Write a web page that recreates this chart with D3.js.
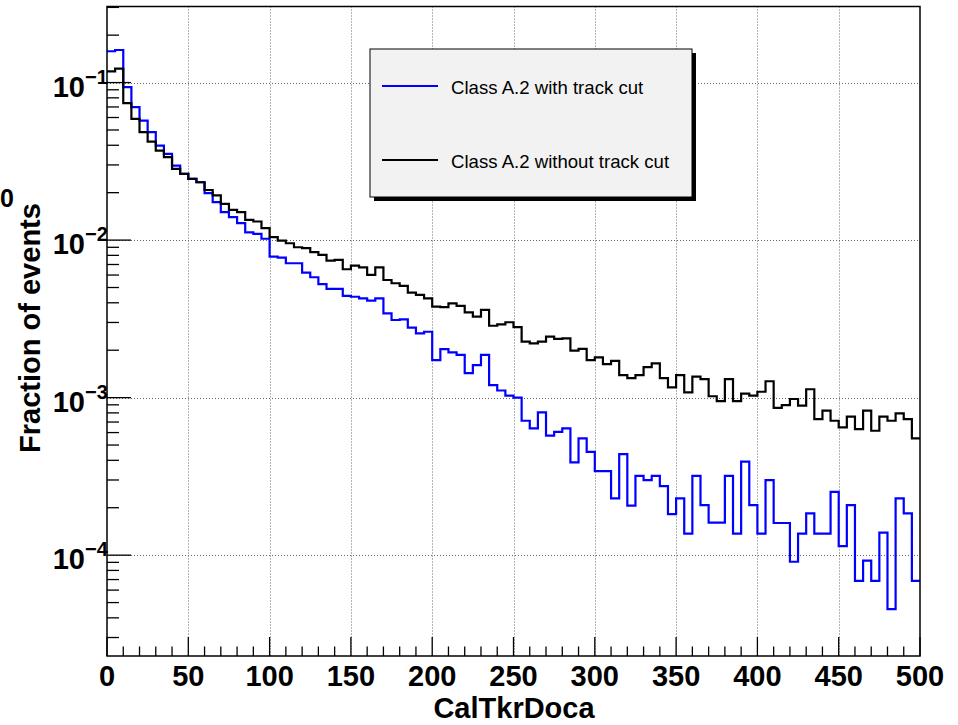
<!DOCTYPE html>
<html>
<head>
<meta charset="utf-8">
<script src="https://cdn.jsdelivr.net/npm/d3@7/dist/d3.min.js"></script>
<style>
  body { margin: 0; background: #fff; }
  svg { display: block; }
  text { font-family: "Liberation Sans", Arial, Helvetica, sans-serif; }
</style>
</head>
<body>
<svg id="chart" width="958" height="725"></svg>
<script>
// Histogram binning: 100 bins of width 5 over CalTkrDoca 0..500
const binStart = 0;
const binWidth = 5;

// Fraction of events per bin, "Class A.2 with track cut"
const withTrackCut = [
  0.158, 0.161, 0.0936, 0.0698, 0.0574, 0.0484, 0.0398, 0.0353, 0.0297, 0.0263,
  0.0245, 0.0233, 0.01986, 0.0174, 0.01504, 0.01397, 0.0128, 0.0112, 0.01094, 0.0102,
  0.00785, 0.00774, 0.00713, 0.00713, 0.00622, 0.00581, 0.00525, 0.0049, 0.0049, 0.00443,
  0.00437, 0.00427, 0.00413, 0.00427, 0.00343, 0.00311, 0.00314, 0.00278, 0.00256, 0.00262,
  0.00173, 0.00203, 0.00194, 0.00187, 0.00143, 0.00161, 0.00187, 0.0012, 0.00111, 0.00103,
  0.001, 0.000713, 0.000638, 0.000807, 0.000573, 0.000607, 0.000638, 0.000388, 0.000551, 0.000453,
  0.000342, 0.000342, 0.000229, 0.000438, 0.000206, 0.000319, 0.000299, 0.000319, 0.000274, 0.000182,
  0.000229, 0.000137, 0.000319, 0.000208, 0.000161, 0.000161, 0.000319, 0.000137, 0.000392, 0.000208,
  0.000137, 0.000299, 0.00016, 0.00016, 0.0000908, 0.000137, 0.000184, 0.000137, 0.000137, 0.000252,
  0.000114, 0.000208, 0.0000687, 0.0000922, 0.0000687, 0.000139, 0.0000454, 0.000229, 0.000184, 0.0000687
];

// Fraction of events per bin, "Class A.2 without track cut"
const withoutTrackCut = [
  0.1177, 0.1225, 0.0741, 0.0589, 0.0484, 0.0422, 0.037, 0.0336, 0.0283, 0.0263,
  0.0245, 0.0233, 0.0208, 0.0192, 0.017, 0.01555, 0.01504, 0.01343, 0.01312, 0.0119,
  0.01043, 0.00993, 0.00955, 0.00901, 0.00888, 0.00838, 0.00805, 0.00741, 0.00748, 0.00653,
  0.00689, 0.00672, 0.00601, 0.00672, 0.00558, 0.00532, 0.00512, 0.00464, 0.00449, 0.00427,
  0.00378, 0.00375, 0.00397, 0.00382, 0.00348, 0.00327, 0.00361, 0.00286, 0.00292, 0.00301,
  0.0028, 0.00227, 0.00221, 0.00227, 0.00244, 0.00236, 0.00238, 0.00199, 0.00204, 0.00173,
  0.0018, 0.00163, 0.00171, 0.00139, 0.00133, 0.00139, 0.00156, 0.00165, 0.00133, 0.00116,
  0.00139, 0.00108, 0.00136, 0.00131, 0.00102, 0.00095, 0.00131, 0.00095, 0.00106, 0.00103,
  0.00109, 0.00127, 0.000862, 0.000897, 0.00098, 0.000889, 0.00113, 0.000731, 0.000826, 0.000713,
  0.000647, 0.000757, 0.000631, 0.000826, 0.000616, 0.000757, 0.000713, 0.000794, 0.000731, 0.000551
];

const seriesNames = ["Class A.2 with track cut", "Class A.2 without track cut"];
const seriesColors = ["#0000ff", "#000000"];

const xDomain = [0, 500];
const xMajorTicks = [0, 50, 100, 150, 200, 250, 300, 350, 400, 450, 500];
const xMinorStep = 10;
const yDomain = [2.29e-5, 0.304];
const yDecadeExponents = [-4, -3, -2, -1];

const xTitle = "CalTkrDoca";
const yTitle = "Fraction of events";

// Frame geometry
const frame = { left: 107, right: 920, top: 6.5, bottom: 656 };

const svg = d3.select("#chart");

const x = d3.scaleLinear().domain(xDomain).range([frame.left, frame.right]);
const y = d3.scaleLog().domain(yDomain).range([frame.bottom, frame.top]);

// Dotted grid at the major ticks
const grid = svg.append("g")
  .attr("stroke", "#666")
  .attr("stroke-width", 1)
  .attr("stroke-dasharray", "1,2");
grid.selectAll("line.vx")
  .data(xMajorTicks.filter(t => t > xDomain[0] && t < xDomain[1]))
  .join("line")
  .attr("x1", d => Math.round(x(d)) + 0.5).attr("x2", d => Math.round(x(d)) + 0.5)
  .attr("y1", frame.top).attr("y2", frame.bottom);
grid.selectAll("line.hy")
  .data(yDecadeExponents)
  .join("line")
  .attr("x1", frame.left).attr("x2", frame.right)
  .attr("y1", d => Math.round(y(Math.pow(10, d))) + 0.5)
  .attr("y2", d => Math.round(y(Math.pow(10, d))) + 0.5);

// Histograms
svg.append("clipPath").attr("id", "plot-clip")
  .append("rect")
  .attr("x", frame.left).attr("y", frame.top)
  .attr("width", frame.right - frame.left).attr("height", frame.bottom - frame.top);

const stepLine = d3.line()
  .x(d => x(d[0]))
  .y(d => y(d[1]))
  .curve(d3.curveStepAfter);

function histPoints(values) {
  const pts = values.map((v, i) => [binStart + i * binWidth, v]);
  pts.push([binStart + values.length * binWidth, values[values.length - 1]]);
  return pts;
}

const hists = svg.append("g").attr("clip-path", "url(#plot-clip)");
[withTrackCut, withoutTrackCut].forEach((vals, k) => {
  hists.append("path")
    .attr("d", stepLine(histPoints(vals)))
    .attr("fill", "none")
    .attr("stroke", seriesColors[k])
    .attr("stroke-width", 2.2)
    .attr("stroke-linejoin", "miter");
});

// Frame
svg.append("rect")
  .attr("x", frame.left).attr("y", frame.top)
  .attr("width", frame.right - frame.left).attr("height", frame.bottom - frame.top)
  .attr("fill", "none").attr("stroke", "#000").attr("stroke-width", 1.5);

// X axis ticks (pointing into the plot)
const xAxisG = svg.append("g").attr("stroke", "#000").attr("stroke-width", 1.3);
const xMinor = d3.range(xDomain[0], xDomain[1] + 0.001, xMinorStep)
  .filter(t => !xMajorTicks.includes(t));
xAxisG.selectAll("line.minor").data(xMinor).join("line")
  .attr("x1", d => x(d)).attr("x2", d => x(d))
  .attr("y1", frame.bottom).attr("y2", frame.bottom - 9.5);
xAxisG.selectAll("line.major").data(xMajorTicks).join("line")
  .attr("x1", d => x(d)).attr("x2", d => x(d))
  .attr("y1", frame.bottom).attr("y2", frame.bottom - 19);

svg.append("g").selectAll("text").data(xMajorTicks).join("text")
  .attr("x", d => x(d))
  .attr("y", 686)
  .attr("text-anchor", "middle")
  .attr("font-weight", "bold")
  .attr("font-size", 29)
  .text(d => d);

// Y axis ticks: decades and 2..9 subdivisions
const yAxisG = svg.append("g").attr("stroke", "#000").attr("stroke-width", 1.3);
const yMinor = [];
for (let e = -5; e <= 0; e++) {
  for (let m = 2; m <= 9; m++) {
    const v = m * Math.pow(10, e);
    if (v >= yDomain[0] && v <= yDomain[1]) yMinor.push(v);
  }
}
yAxisG.selectAll("line.minor").data(yMinor).join("line")
  .attr("x1", frame.left).attr("x2", frame.left + 12)
  .attr("y1", d => y(d)).attr("y2", d => y(d));
yAxisG.selectAll("line.major").data(yDecadeExponents).join("line")
  .attr("x1", frame.left).attr("x2", frame.left + 24)
  .attr("y1", d => y(Math.pow(10, d))).attr("y2", d => y(Math.pow(10, d)));

svg.append("g").selectAll("text").data(yDecadeExponents).join("text")
  .attr("x", 85)
  .attr("y", d => y(Math.pow(10, d)) + 14)
  .attr("text-anchor", "end")
  .attr("font-weight", "bold")
  .attr("font-size", 29)
  .text("10");
svg.append("g").selectAll("text").data(yDecadeExponents).join("text")
  .attr("x", 85)
  .attr("y", d => y(Math.pow(10, d)) + 1)
  .attr("font-weight", "bold")
  .attr("font-size", 20)
  .text(d => "\u2212" + Math.abs(d));

// Axis titles
svg.append("text")
  .attr("x", 514).attr("y", 718)
  .attr("text-anchor", "middle")
  .attr("font-weight", "bold")
  .attr("font-size", 29)
  .text(xTitle);

svg.append("text")
  .attr("transform", "translate(40,328) rotate(-90)")
  .attr("text-anchor", "middle")
  .attr("font-weight", "bold")
  .attr("font-size", 29)
  .text(yTitle);

// Label fragment at the left edge
svg.append("text")
  .attr("x", 0).attr("y", 207)
  .attr("text-anchor", "start")
  .attr("font-weight", "bold")
  .attr("font-size", 25)
  .text("0");

// Legend box with drop shadow
const legend = { x: 370, y: 49, w: 322, h: 148 };
svg.append("rect")
  .attr("x", legend.x + 4).attr("y", legend.y + 4)
  .attr("width", legend.w).attr("height", legend.h)
  .attr("fill", "#000");
svg.append("rect")
  .attr("x", legend.x).attr("y", legend.y)
  .attr("width", legend.w).attr("height", legend.h)
  .attr("fill", "#f2f2f2").attr("stroke", "#000").attr("stroke-width", 1);

const legendRows = [86, 160];
seriesNames.forEach((name, k) => {
  svg.append("line")
    .attr("x1", 382).attr("x2", 438)
    .attr("y1", legendRows[k]).attr("y2", legendRows[k])
    .attr("stroke", seriesColors[k]).attr("stroke-width", 2.2);
  svg.append("text")
    .attr("x", 451).attr("y", legendRows[k] + 8)
    .attr("font-size", 18.6)
    .attr("fill", "#000")
    .text(name);
});
</script>
</body>
</html>
